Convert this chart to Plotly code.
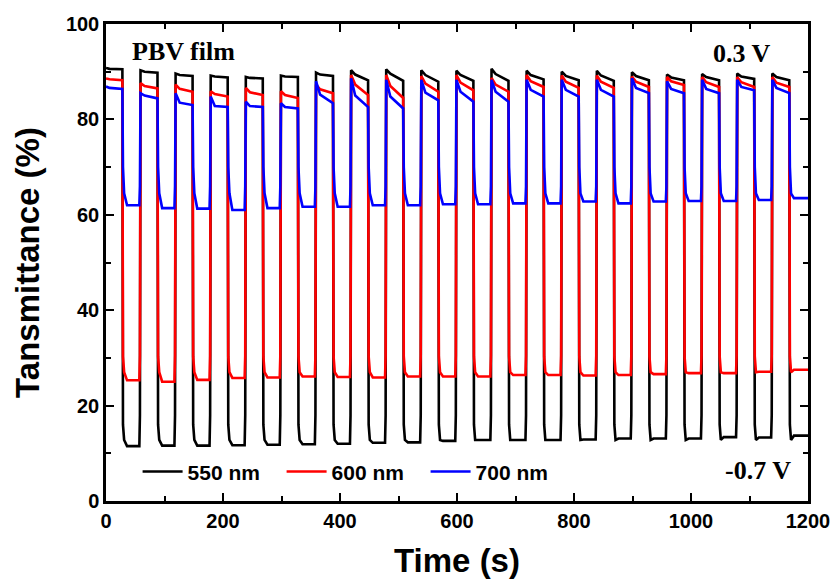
import plotly.graph_objects as go

# ---- data (per switching cycle, 60 s period) ----
n_cycles = 20
period = 60  # s  (0.3 V for ~30 s, then -0.7 V for ~30 s)

# 550 nm (black)
b_hi_start = [90.8, 90.3, 89.6, 89.2, 88.9, 89.2, 89.8, 90.3, 90.5, 90.3, 90.2, 90.6, 90.2, 90.0, 90.2, 89.9, 89.4, 89.5, 89.6, 89.6]
b_hi_mid   = [90.6, 90.0, 89.3, 89.0, 88.7, 89.0, 89.4, 89.4, 89.6, 89.3, 89.3, 89.5, 89.3, 89.1, 89.2, 89.1, 88.8, 88.9, 89.0, 88.9]
b_hi_end   = [90.5, 89.8, 89.1, 88.8, 88.6, 88.9, 89.1, 88.2, 88.1, 87.9, 88.1, 88.1, 88.4, 88.2, 88.1, 88.2, 88.2, 88.2, 88.5, 88.2]
b_low      = [11.5, 11.6, 11.6, 11.7, 11.8, 11.9, 12.0, 12.2, 12.3, 12.6, 12.8, 12.8, 12.8, 12.9, 13.1, 13.1, 13.1, 13.4, 13.3, 13.7]
b_steps    = [16.0, 12.8, 18.0]   # first fall sample, second fall sample, first rise sample

# 600 nm (red)
r_hi_start = [88.6, 87.6, 87.3, 85.9, 86.6, 85.9, 87.3, 89.3, 89.3, 89.1, 89.3, 88.7, 89.3, 89.2, 89.2, 89.0, 88.9, 88.9, 88.9, 88.9]
r_hi_mid   = [88.4, 87.0, 86.4, 85.3, 85.7, 85.1, 86.3, 87.3, 87.0, 87.5, 87.7, 87.3, 88.0, 87.9, 87.9, 87.9, 88.0, 87.8, 87.8, 87.7]
r_hi_end   = [88.2, 86.5, 85.8, 84.8, 85.1, 84.5, 85.5, 85.1, 84.5, 85.8, 86.1, 85.8, 86.8, 86.6, 86.6, 86.8, 87.2, 86.8, 86.8, 86.8]
r_low      = [25.3, 25.0, 25.4, 25.8, 25.9, 26.1, 26.0, 25.9, 26.1, 26.1, 26.1, 26.4, 26.4, 26.3, 26.4, 26.6, 26.8, 26.8, 27.1, 27.5]
r_steps    = [30.3, 27.0, 30.5]

# 700 nm (blue)
u_hi_start = [86.9, 85.5, 85.5, 84.8, 83.7, 83.4, 88.0, 88.6, 88.3, 88.3, 88.3, 88.3, 88.3, 88.3, 88.3, 88.6, 88.0, 88.3, 88.3, 88.3]
u_hi_mid   = [86.6, 85.0, 83.5, 82.8, 82.8, 82.6, 85.2, 85.0, 84.8, 85.6, 85.8, 85.8, 86.2, 86.2, 86.2, 86.6, 86.4, 86.4, 86.8, 86.6]
u_hi_end   = [86.4, 84.4, 83.0, 82.6, 82.6, 82.3, 83.4, 82.6, 82.3, 84.0, 83.7, 83.7, 84.8, 84.8, 84.8, 85.5, 85.5, 85.5, 86.1, 85.5]
u_low      = [62.0, 61.4, 61.3, 61.0, 61.4, 61.7, 61.7, 62.0, 62.0, 62.2, 62.2, 62.4, 62.4, 62.8, 62.4, 62.8, 62.9, 62.9, 63.1, 63.5]
u_steps    = [70.0, 64.5, 66.0]

series_names = ["550 nm", "600 nm", "700 nm"]
series_colors = ["#000000", "#ff0000", "#0000ff"]

x_ticks = [0, 200, 400, 600, 800, 1000, 1200]
y_ticks = [0, 20, 40, 60, 80, 100]


def build(hs, hm, he, lo, steps):
    t, v = [], []
    f1, f2, r1 = steps
    for k in range(n_cycles):
        t0 = k * period
        if k == 0:
            t.append(0); v.append(hs[k])
        else:
            t.append(t0 - 2); v.append(r1)
            t.append(t0 - 1); v.append(hs[k])
        t += [t0 + 6, t0 + 28, t0 + 29, t0 + 31, t0 + 36, t0 + 57]
        v += [hm[k], he[k], f1, f2, lo[k], lo[k]]
    t.append(n_cycles * period); v.append(lo[-1])
    return t, v


data = [
    build(b_hi_start, b_hi_mid, b_hi_end, b_low, b_steps),
    build(r_hi_start, r_hi_mid, r_hi_end, r_low, r_steps),
    build(u_hi_start, u_hi_mid, u_hi_end, u_low, u_steps),
]

fig = go.Figure()
for (t, v), name, col in zip(data, series_names, series_colors):
    fig.add_trace(go.Scatter(x=t, y=v, mode="lines", name=name,
                             line=dict(color=col, width=2.6)))

sans = "Arial, Liberation Sans, sans-serif"
serif = "Times New Roman, Liberation Serif, serif"

axis_common = dict(
    showline=True, linecolor="black", linewidth=2.5, mirror="ticks",
    ticks="inside", ticklen=8, tickwidth=2, tickcolor="black",
    showgrid=False, zeroline=False, automargin=False,
    tickfont=dict(family=sans, size=20, color="black", weight="bold"),
)

fig.update_xaxes(range=[0, 1200], tickvals=x_ticks,
                 minor=dict(ticks="inside", ticklen=5, tickwidth=2, dtick=100, tick0=0, tickcolor="black"),
                 title=dict(text="Time (s)", font=dict(family=sans, size=33, color="black", weight="bold"),
                            standoff=19),
                 **axis_common)
fig.update_yaxes(range=[0, 100], tickvals=y_ticks,
                 minor=dict(ticks="inside", ticklen=5, tickwidth=2, dtick=10, tick0=0, tickcolor="black"),
                 title=dict(text="Tansmittance (%)", font=dict(family=sans, size=33, color="black", weight="bold"),
                            standoff=17),
                 **axis_common)

fig.update_layout(
    width=832, height=581,
    margin=dict(l=106, r=24, t=24, b=80),
    plot_bgcolor="white", paper_bgcolor="white",
    legend=dict(orientation="h", x=0.045, y=0.061, xanchor="left", yanchor="middle",
                bgcolor="rgba(0,0,0,0)", font=dict(family=sans, size=21, color="black", weight="bold"),
                itemwidth=40, entrywidth=89),
    annotations=[
        dict(text="PBV film", x=0.034, y=0.943, xref="paper", yref="paper",
             xanchor="left", yanchor="middle", showarrow=False,
             font=dict(family=serif, size=26, color="black", weight="bold")),
        dict(text="0.3 V", x=0.950, y=0.939, xref="paper", yref="paper",
             xanchor="right", yanchor="middle", showarrow=False,
             font=dict(family=serif, size=26, color="black", weight="bold")),
        dict(text="-0.7 V", x=0.979, y=0.063, xref="paper", yref="paper",
             xanchor="right", yanchor="middle", showarrow=False,
             font=dict(family=serif, size=26, color="black", weight="bold")),
    ],
)

fig.write_html("out.html")
